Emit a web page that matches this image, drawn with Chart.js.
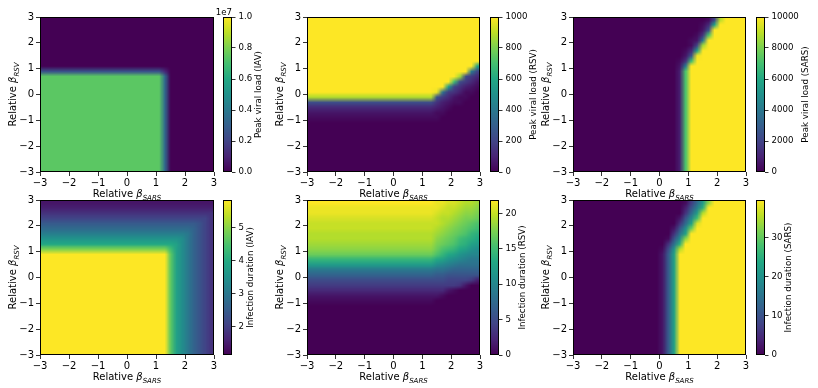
<!DOCTYPE html>
<html><head><meta charset="utf-8">
<script src="https://cdn.jsdelivr.net/npm/chart.js@4.4.1/dist/chart.umd.min.js"></script>
<style>
html,body{margin:0;padding:0;background:#fff;}
#wrap{position:relative;width:818px;height:388px;overflow:hidden;background:#fff;}
#wrap canvas{position:absolute;left:0;top:0;}
</style></head><body><div id="wrap"></div>
<script>
// ================= DATA =================
const AXIS_TICKS = [-3, -2, -1, 0, 1, 2, 3];
const X_CENTERS = [-2.9,-2.7,-2.5,-2.3,-2.1,-1.9,-1.7,-1.5,-1.3,-1.1,-0.9,-0.7,-0.5,-0.3,-0.1,0.1,0.3,0.5,0.7,0.9,1.1,1.3,1.5,1.7,1.9,2.1,2.3,2.5,2.7,2.9];
const Y_CENTERS = [2.9,2.7,2.5,2.3,2.1,1.9,1.7,1.5,1.3,1.1,0.9,0.7,0.5,0.3,0.1,-0.1,-0.3,-0.5,-0.7,-0.9,-1.1,-1.3,-1.5,-1.7,-1.9,-2.1,-2.3,-2.5,-2.7,-2.9];
// each character = colour reading of the cell on its colour bar, 0 (bottom) .. z (top) in 35 steps
const LEVELS = "0123456789abcdefghijklmnopqrstuvwxyz";
const X_LABEL = ["Relative ", "\u03B2", "SARS"];
const Y_LABEL = ["Relative ", "\u03B2", "RSV"];
const CB_LABELS = ["Peak viral load (IAV)", "Peak viral load (RSV)", "Peak viral load (SARS)",
                   "Infection duration (IAV)", "Infection duration (RSV)", "Infection duration (SARS)"];

const PEAK_IAV_RANGE = [0, 1e7];
const PEAK_IAV_TICKS = [0, 2e6, 4e6, 6e6, 8e6, 1e7];
const PEAK_IAV_OFFSET = "1e7";
const PEAK_RSV_RANGE = [0, 1000];
const PEAK_RSV_TICKS = [0, 200, 400, 600, 800, 1000];
const PEAK_SARS_RANGE = [0, 10000];
const PEAK_SARS_TICKS = [0, 2000, 4000, 6000, 8000, 10000];
const DUR_IAV_RANGE = [1.14, 5.84];
const DUR_IAV_TICKS = [2, 3, 4, 5];
const DUR_RSV_RANGE = [0, 21.9];
const DUR_RSV_TICKS = [0, 5, 10, 15, 20];
const DUR_SARS_RANGE = [0, 39.5];
const DUR_SARS_TICKS = [0, 10, 20, 30];

const PEAK_IAV_GRID = [
"0000000000"+"0000000000"+"0000000000",
"0000000000"+"0000000000"+"0000000000",
"0000000000"+"0000000000"+"0000000000",
"0000000000"+"0000000000"+"0000000000",
"0000000000"+"0000000000"+"0000000000",
"0000000000"+"0000000000"+"0000000000",
"0000000000"+"0000000000"+"0000000000",
"0000000000"+"0000000000"+"0000000000",
"0000000000"+"0000000000"+"0000000000",
"0000000000"+"0000000000"+"0000000000",
"9999999999"+"9999999999"+"9400000000",
"qqqqqqqqqq"+"qqqqqqqqqq"+"qc00000000",
"qqqqqqqqqq"+"qqqqqqqqqq"+"qc00000000",
"qqqqqqqqqq"+"qqqqqqqqqq"+"qc00000000",
"qqqqqqqqqq"+"qqqqqqqqqq"+"qc00000000",
"qqqqqqqqqq"+"qqqqqqqqqq"+"qc00000000",
"qqqqqqqqqq"+"qqqqqqqqqq"+"qc00000000",
"qqqqqqqqqq"+"qqqqqqqqqq"+"qc00000000",
"qqqqqqqqqq"+"qqqqqqqqqq"+"qc00000000",
"qqqqqqqqqq"+"qqqqqqqqqq"+"qc00000000",
"qqqqqqqqqq"+"qqqqqqqqqq"+"qc00000000",
"qqqqqqqqqq"+"qqqqqqqqqq"+"qc00000000",
"qqqqqqqqqq"+"qqqqqqqqqq"+"qc00000000",
"qqqqqqqqqq"+"qqqqqqqqqq"+"qc00000000",
"qqqqqqqqqq"+"qqqqqqqqqq"+"qc00000000",
"qqqqqqqqqq"+"qqqqqqqqqq"+"qc00000000",
"qqqqqqqqqq"+"qqqqqqqqqq"+"qc00000000",
"qqqqqqqqqq"+"qqqqqqqqqq"+"qc00000000",
"qqqqqqqqqq"+"qqqqqqqqqq"+"qc00000000",
"qqqqqqqqqq"+"qqqqqqqqqq"+"qc00000000"
];

const PEAK_RSV_GRID = [
"zzzzzzzzzz"+"zzzzzzzzzz"+"zzzzzzzzzz",
"zzzzzzzzzz"+"zzzzzzzzzz"+"zzzzzzzzzz",
"zzzzzzzzzz"+"zzzzzzzzzz"+"zzzzzzzzzz",
"zzzzzzzzzz"+"zzzzzzzzzz"+"zzzzzzzzzz",
"zzzzzzzzzz"+"zzzzzzzzzz"+"zzzzzzzzzz",
"zzzzzzzzzz"+"zzzzzzzzzz"+"zzzzzzzzzz",
"zzzzzzzzzz"+"zzzzzzzzzz"+"zzzzzzzzzz",
"zzzzzzzzzz"+"zzzzzzzzzz"+"zzzzzzzzzz",
"zzzzzzzzzz"+"zzzzzzzzzz"+"zzzzzzzzzz",
"zzzzzzzzzz"+"zzzzzzzzzz"+"zzzzzzzzzk",
"zzzzzzzzzz"+"zzzzzzzzzz"+"zzzzzzzze7",
"zzzzzzzzzz"+"zzzzzzzzzz"+"zzzzzzu864",
"zzzzzzzzzz"+"zzzzzzzzzz"+"zzzzzo8642",
"zzzzzzzzzz"+"zzzzzzzzzz"+"zzzzj75321",
"zzzzzzzzzz"+"zzzzzzzzzz"+"zzyd653110",
"vvvvvvvvvv"+"vvvvvvvvvv"+"vv96421100",
"8888888888"+"8888888888"+"8853211000",
"4444444444"+"4444444444"+"4432100000",
"2222222222"+"2222222222"+"2211000000",
"1111111111"+"1111111111"+"1110000000",
"0000000000"+"0000000000"+"0000000000",
"0000000000"+"0000000000"+"0000000000",
"0000000000"+"0000000000"+"0000000000",
"0000000000"+"0000000000"+"0000000000",
"0000000000"+"0000000000"+"0000000000",
"0000000000"+"0000000000"+"0000000000",
"0000000000"+"0000000000"+"0000000000",
"0000000000"+"0000000000"+"0000000000",
"0000000000"+"0000000000"+"0000000000",
"0000000000"+"0000000000"+"0000000000"
];

const PEAK_SARS_GRID = [
"0000000000"+"0000000000"+"00017vzzzz",
"0000000000"+"0000000000"+"0014kzzzzz",
"0000000000"+"0000000000"+"0029zzzzzz",
"0000000000"+"0000000000"+"015pzzzzzz",
"0000000000"+"0000000000"+"12ezzzzzzz",
"0000000000"+"0000000000"+"17uzzzzzzz",
"0000000000"+"0000000001"+"4kzzzzzzzz",
"0000000000"+"0000000002"+"9yzzzzzzzz",
"0000000000"+"0000000015"+"ozzzzzzzzz",
"0000000000"+"000000002e"+"zzzzzzzzzz",
"0000000000"+"000000003p"+"zzzzzzzzzz",
"0000000000"+"000000003p"+"zzzzzzzzzz",
"0000000000"+"000000003p"+"zzzzzzzzzz",
"0000000000"+"000000003p"+"zzzzzzzzzz",
"0000000000"+"000000003p"+"zzzzzzzzzz",
"0000000000"+"000000003p"+"zzzzzzzzzz",
"0000000000"+"000000003p"+"zzzzzzzzzz",
"0000000000"+"000000003p"+"zzzzzzzzzz",
"0000000000"+"000000003p"+"zzzzzzzzzz",
"0000000000"+"000000003p"+"zzzzzzzzzz",
"0000000000"+"000000003p"+"zzzzzzzzzz",
"0000000000"+"000000003p"+"zzzzzzzzzz",
"0000000000"+"000000003p"+"zzzzzzzzzz",
"0000000000"+"000000003p"+"zzzzzzzzzz",
"0000000000"+"000000003p"+"zzzzzzzzzz",
"0000000000"+"000000003p"+"zzzzzzzzzz",
"0000000000"+"000000003p"+"zzzzzzzzzz",
"0000000000"+"000000003p"+"zzzzzzzzzz",
"0000000000"+"000000003p"+"zzzzzzzzzz",
"0000000000"+"000000003p"+"zzzzzzzzzz"
];

const DUR_IAV_GRID = [
"2222222222"+"2222222222"+"2222222222",
"3333333333"+"3333333333"+"3333333333",
"5555555555"+"5555555555"+"5555555555",
"7777777777"+"7777777777"+"7777777775",
"aaaaaaaaaa"+"aaaaaaaaaa"+"aaaaaaa975",
"cccccccccc"+"cccccccccc"+"ccccccb975",
"ffffffffff"+"ffffffffff"+"fffffeb975",
"iiiiiiiiii"+"iiiiiiiiii"+"iiiiheb975",
"llllllllll"+"llllllllll"+"lllkheb975",
"ssssssssss"+"ssssssssss"+"ssokheb975",
"zzzzzzzzzz"+"zzzzzzzzzz"+"zzqkheb975",
"zzzzzzzzzz"+"zzzzzzzzzz"+"zzqkheb975",
"zzzzzzzzzz"+"zzzzzzzzzz"+"zzqkheb975",
"zzzzzzzzzz"+"zzzzzzzzzz"+"zzqkheb975",
"zzzzzzzzzz"+"zzzzzzzzzz"+"zzqkheb975",
"zzzzzzzzzz"+"zzzzzzzzzz"+"zzqkheb975",
"zzzzzzzzzz"+"zzzzzzzzzz"+"zzqkheb975",
"zzzzzzzzzz"+"zzzzzzzzzz"+"zzqkheb975",
"zzzzzzzzzz"+"zzzzzzzzzz"+"zzqkheb975",
"zzzzzzzzzz"+"zzzzzzzzzz"+"zzqkheb975",
"zzzzzzzzzz"+"zzzzzzzzzz"+"zzqkheb975",
"zzzzzzzzzz"+"zzzzzzzzzz"+"zzqkheb975",
"zzzzzzzzzz"+"zzzzzzzzzz"+"zzqkheb975",
"zzzzzzzzzz"+"zzzzzzzzzz"+"zzqkheb975",
"zzzzzzzzzz"+"zzzzzzzzzz"+"zzqkheb975",
"zzzzzzzzzz"+"zzzzzzzzzz"+"zzqkheb975",
"zzzzzzzzzz"+"zzzzzzzzzz"+"zzqkheb975",
"zzzzzzzzzz"+"zzzzzzzzzz"+"zzqkheb975",
"zzzzzzzzzz"+"zzzzzzzzzz"+"zzqkheb975",
"zzzzzzzzzz"+"zzzzzzzzzz"+"zzqkheb975"
];

const DUR_RSV_GRID = [
"zzzzzzzzzz"+"zzzzzzzzzz"+"zzyyxxwvvu",
"yyyyyyyyyy"+"yyyyyyyyyy"+"yyyxwwvuut",
"yyyyyyyyyy"+"yyyyyyyyyy"+"yyxwwvutts",
"xxxxxxxxxx"+"xxxxxxxxxx"+"xxwvvutssr",
"wwwwwwwwww"+"wwwwwwwwww"+"wwwvutsrqp",
"wwwwwwwwww"+"wwwwwwwwww"+"wwvutsrqpo",
"vvvvvvvvvv"+"vvvvvvvvvv"+"vvutsrqpnm",
"vvvvvvvvvv"+"vvvvvvvvvv"+"vvtsrqonml",
"uuuuuuuuuu"+"uuuuuuuuuu"+"uusrqpnmkj",
"tttttttttt"+"tttttttttt"+"ttrponlkih",
"rrrrrrrrrr"+"rrrrrrrrrr"+"rrpnlkihgg",
"nnnnnnnnnn"+"nnnnnnnnnn"+"nnlkihgfee",
"jjjjjjjjjj"+"jjjjjjjjjj"+"jjhgfedddd",
"eeeeeeeeee"+"eeeeeeeeee"+"eeddcbbbbb",
"bbbbbbbbbb"+"bbbbbbbbbb"+"bbaa999999",
"8888888888"+"8888888888"+"8888777763",
"6666666666"+"6666666666"+"6666665200",
"4444444444"+"4444444444"+"4444210000",
"2222222222"+"2222222222"+"2221000000",
"1111111111"+"1111111111"+"1100000000",
"0000000000"+"0000000000"+"0000000000",
"0000000000"+"0000000000"+"0000000000",
"0000000000"+"0000000000"+"0000000000",
"0000000000"+"0000000000"+"0000000000",
"0000000000"+"0000000000"+"0000000000",
"0000000000"+"0000000000"+"0000000000",
"0000000000"+"0000000000"+"0000000000",
"0000000000"+"0000000000"+"0000000000",
"0000000000"+"0000000000"+"0000000000",
"0000000000"+"0000000000"+"0000000000"
];

const DUR_SARS_GRID = [
"0000000000"+"0000000001"+"6cjtzzzzzz",
"0000000000"+"0000000003"+"9fmzzzzzzz",
"0000000000"+"0000000005"+"cjvzzzzzzz",
"0000000000"+"0000000029"+"gozzzzzzzz",
"0000000000"+"000000005c"+"kxzzzzzzzz",
"0000000000"+"000000029h"+"rzzzzzzzzz",
"0000000000"+"00000005dk"+"zzzzzzzzzz",
"0000000000"+"00000019ht"+"zzzzzzzzzz",
"0000000000"+"0000005dmz"+"zzzzzzzzzz",
"0000000000"+"0000018ivz"+"zzzzzzzzzz",
"0000000000"+"000002akzz"+"zzzzzzzzzz",
"0000000000"+"000002akzz"+"zzzzzzzzzz",
"0000000000"+"000002akzz"+"zzzzzzzzzz",
"0000000000"+"000002akzz"+"zzzzzzzzzz",
"0000000000"+"000002akzz"+"zzzzzzzzzz",
"0000000000"+"000002akzz"+"zzzzzzzzzz",
"0000000000"+"000002akzz"+"zzzzzzzzzz",
"0000000000"+"000002akzz"+"zzzzzzzzzz",
"0000000000"+"000002akzz"+"zzzzzzzzzz",
"0000000000"+"000002akzz"+"zzzzzzzzzz",
"0000000000"+"000002akzz"+"zzzzzzzzzz",
"0000000000"+"000002akzz"+"zzzzzzzzzz",
"0000000000"+"000002akzz"+"zzzzzzzzzz",
"0000000000"+"000002akzz"+"zzzzzzzzzz",
"0000000000"+"000002akzz"+"zzzzzzzzzz",
"0000000000"+"000002akzz"+"zzzzzzzzzz",
"0000000000"+"000002akzz"+"zzzzzzzzzz",
"0000000000"+"000002akzz"+"zzzzzzzzzz",
"0000000000"+"000002akzz"+"zzzzzzzzzz",
"0000000000"+"000002akzz"+"zzzzzzzzzz"
];

// ================= RENDERING =================
const W = 818, H = 388;
const FONT = '"DejaVu Sans", "Liberation Sans", sans-serif';
const VIRIDIS = [[68,1,84],[72,36,117],[65,68,135],[53,95,141],[42,120,142],[33,145,140],[34,168,132],[68,191,112],[122,209,81],[189,223,38],[253,231,37]];
function viridisRGB(t) {
  t = Math.max(0, Math.min(1, t));
  const p = t * 10, i = Math.min(9, Math.floor(p)), f = p - i;
  const a = VIRIDIS[i], b = VIRIDIS[i + 1];
  return [Math.round(a[0] + (b[0] - a[0]) * f), Math.round(a[1] + (b[1] - a[1]) * f), Math.round(a[2] + (b[2] - a[2]) * f)];
}
function viridis(t) { const c = viridisRGB(t); return 'rgb(' + c[0] + ',' + c[1] + ',' + c[2] + ')'; }
function fmtAxis(v) { return v < 0 ? '\u2212' + Math.abs(v) : String(v); }

const PANELS = [
  { grid: PEAK_IAV_GRID, range: PEAK_IAV_RANGE, ticks: PEAK_IAV_TICKS, label: CB_LABELS[0], offset: PEAK_IAV_OFFSET, fmt: v => (v / 1e7).toFixed(1), geo: { L: 40, R: 214, T: 17, B: 172, cL: 223, cR: 232 } },
  { grid: PEAK_RSV_GRID, range: PEAK_RSV_RANGE, ticks: PEAK_RSV_TICKS, label: CB_LABELS[1], fmt: v => String(v), geo: { L: 307, R: 480, T: 17, B: 172, cL: 490, cR: 499 } },
  { grid: PEAK_SARS_GRID, range: PEAK_SARS_RANGE, ticks: PEAK_SARS_TICKS, label: CB_LABELS[2], fmt: v => String(v), geo: { L: 573, R: 746, T: 17, B: 172, cL: 756, cR: 765 } },
  { grid: DUR_IAV_GRID, range: DUR_IAV_RANGE, ticks: DUR_IAV_TICKS, label: CB_LABELS[3], fmt: v => String(v), geo: { L: 40, R: 214, T: 200, B: 355, cL: 223, cR: 232 } },
  { grid: DUR_RSV_GRID, range: DUR_RSV_RANGE, ticks: DUR_RSV_TICKS, label: CB_LABELS[4], fmt: v => String(v), geo: { L: 307, R: 480, T: 200, B: 355, cL: 490, cR: 499 } },
  { grid: DUR_SARS_GRID, range: DUR_SARS_RANGE, ticks: DUR_SARS_TICKS, label: CB_LABELS[5], fmt: v => String(v), geo: { L: 573, R: 746, T: 200, B: 355, cL: 756, cR: 765 } }
];

const wrap = document.getElementById('wrap');
function newCtx() {
  const c = document.createElement('canvas');
  c.width = W; c.height = H; c.style.width = W + 'px'; c.style.height = H + 'px';
  wrap.appendChild(c);
  return c.getContext('2d');
}

function drawMath(ctx, x, y, rot, parts, size) {
  ctx.save();
  ctx.translate(x, y); ctx.rotate(rot);
  ctx.fillStyle = '#000'; ctx.textBaseline = 'alphabetic'; ctx.textAlign = 'left';
  const f0 = size + 'px ' + FONT, f1 = 'italic ' + size + 'px ' + FONT, f2 = 'italic ' + (size * 0.7) + 'px ' + FONT;
  ctx.font = f0; const w0 = ctx.measureText(parts[0]).width;
  ctx.font = f1; const w1 = ctx.measureText(parts[1]).width;
  ctx.font = f2; const w2 = ctx.measureText(parts[2]).width;
  let cx = -(w0 + w1 + w2) / 2;
  ctx.font = f0; ctx.fillText(parts[0], cx, 0); cx += w0;
  ctx.font = f1; ctx.fillText(parts[1], cx, 0); cx += w1;
  ctx.font = f2; ctx.fillText(parts[2], cx, size * 0.25);
  ctx.restore();
}

const YW = 30, XH = 24, CBW = 50;

PANELS.forEach((p, idx) => {
  const g = p.geo;
  const span = p.range[1] - p.range[0];
  // one pixel per cell, later placed on the chart area through the x / y scales (bilinear display interpolation)
  const nC = X_CENTERS.length, nR = Y_CENTERS.length;
  const off = document.createElement('canvas');
  off.width = nC; off.height = nR;
  const octx = off.getContext('2d');
  const img = octx.createImageData(nC, nR);
  p.grid.forEach((row, i) => {
    for (let j = 0; j < nC; j++) {
      const k = LEVELS.indexOf(row[j] || '0');
      const v = p.range[0] + span * k / 35;
      const c = viridisRGB((v - p.range[0]) / span);
      const o = (i * nC + j) * 4;
      img.data[o] = c[0]; img.data[o + 1] = c[1]; img.data[o + 2] = c[2]; img.data[o + 3] = 255;
    }
  });
  octx.putImageData(img, 0, 0);

  const heat = {
    id: 'heat' + idx,
    beforeDatasetsDraw(chart) {
      const { ctx, chartArea: a, scales: { x, y } } = chart;
      const hx = Math.abs(X_CENTERS[1] - X_CENTERS[0]) / 2, hy = Math.abs(Y_CENTERS[1] - Y_CENTERS[0]) / 2;
      const x0 = x.getPixelForValue(X_CENTERS[0] - hx), x1 = x.getPixelForValue(X_CENTERS[nC - 1] + hx);
      const y0 = y.getPixelForValue(Y_CENTERS[0] + hy), y1 = y.getPixelForValue(Y_CENTERS[nR - 1] - hy);
      ctx.save();
      ctx.beginPath(); ctx.rect(a.left, a.top, a.right - a.left, a.bottom - a.top); ctx.clip();
      ctx.imageSmoothingEnabled = true;
      ctx.imageSmoothingQuality = 'low';
      ctx.drawImage(off, x0, y0, x1 - x0, y1 - y0);
      ctx.restore();
    },
    afterDraw(chart) {
      const { ctx, chartArea: a } = chart;
      ctx.save();
      ctx.strokeStyle = '#000'; ctx.lineWidth = 1;
      ctx.strokeRect(a.left + 0.5, a.top + 0.5, a.right - a.left - 1, a.bottom - a.top - 1);
      ctx.restore();
      drawMath(ctx, (a.left + a.right) / 2, a.bottom + 25, 0, X_LABEL, 10);
      drawMath(ctx, a.left - 24, (a.top + a.bottom) / 2, -Math.PI / 2, Y_LABEL, 10);
    }
  };
  const axisCommon = {
    type: 'linear', min: -3, max: 3,
    afterBuildTicks: s => { s.ticks = AXIS_TICKS.map(v => ({ value: v })); },
    ticks: { color: '#000', font: { family: FONT, size: 10 }, maxRotation: 0, autoSkip: false, callback: v => fmtAxis(v) },
    grid: { display: true, drawOnChartArea: false, drawTicks: true, tickLength: 4, color: '#000', lineWidth: 0.8 },
    border: { display: false }
  };
  new Chart(newCtx(), {
    type: 'scatter',
    data: { datasets: [] },
    options: {
      responsive: false, animation: false, devicePixelRatio: 1, events: [],
      layout: { padding: { left: g.L - YW, right: W - g.R, top: g.T, bottom: H - g.B - XH } },
      plugins: { legend: { display: false }, tooltip: { enabled: false } },
      scales: {
        x: Object.assign({}, axisCommon, { position: 'bottom', afterFit: s => { s.height = XH; }, ticks: Object.assign({}, axisCommon.ticks, { padding: 1 }) }),
        y: Object.assign({}, axisCommon, { position: 'left', afterFit: s => { s.width = YW; }, ticks: Object.assign({}, axisCommon.ticks, { padding: 2 }) })
      }
    },
    plugins: [heat]
  });

  // colour bar
  const cb = {
    id: 'cb' + idx,
    beforeDatasetsDraw(chart) {
      const { ctx, chartArea: a, scales: { y } } = chart;
      ctx.save();
      for (let py = Math.floor(a.top); py < Math.ceil(a.bottom); py++) {
        const v = y.getValueForPixel(py + 0.5);
        ctx.fillStyle = viridis((v - p.range[0]) / span);
        ctx.fillRect(a.left, py, a.right - a.left, 1);
      }
      ctx.restore();
    },
    afterDraw(chart) {
      const { ctx, chartArea: a, scales: { y } } = chart;
      ctx.save();
      ctx.strokeStyle = '#000'; ctx.lineWidth = 1;
      ctx.strokeRect(a.left + 0.5, a.top + 0.5, a.right - a.left - 1, a.bottom - a.top - 1);
      ctx.font = '8.6px ' + FONT;
      let mw = 0;
      y.ticks.forEach(t => { mw = Math.max(mw, ctx.measureText(String(t.label)).width); });
      ctx.fillStyle = '#000';
      if (p.offset) {
        ctx.textAlign = 'right'; ctx.textBaseline = 'alphabetic';
        ctx.fillText(p.offset, a.right, a.top - 2);
      }
      ctx.translate(a.right + 3.5 + 3 + mw + 9, (a.top + a.bottom) / 2);
      ctx.rotate(-Math.PI / 2);
      ctx.textAlign = 'center'; ctx.textBaseline = 'alphabetic';
      ctx.font = '8.7px ' + FONT;
      ctx.fillText(p.label, 0, 0);
      ctx.restore();
    }
  };
  new Chart(newCtx(), {
    type: 'scatter',
    data: { datasets: [] },
    options: {
      responsive: false, animation: false, devicePixelRatio: 1, events: [],
      layout: { padding: { left: g.cL, right: W - g.cR - CBW, top: g.T, bottom: H - g.B } },
      plugins: { legend: { display: false }, tooltip: { enabled: false } },
      scales: {
        x: { type: 'linear', display: false, min: 0, max: 1 },
        y: {
          type: 'linear', position: 'right', min: p.range[0], max: p.range[1],
          afterFit: s => { s.width = CBW; },
          afterBuildTicks: s => { s.ticks = p.ticks.map(v => ({ value: v })); },
          ticks: { color: '#000', font: { family: FONT, size: 8.6 }, padding: 3, autoSkip: false, callback: v => p.fmt(v) },
          grid: { display: true, drawOnChartArea: false, drawTicks: true, tickLength: 3.5, color: '#000', lineWidth: 0.8 },
          border: { display: false }
        }
      }
    },
    plugins: [cb]
  });
});
</script>
</body></html>
